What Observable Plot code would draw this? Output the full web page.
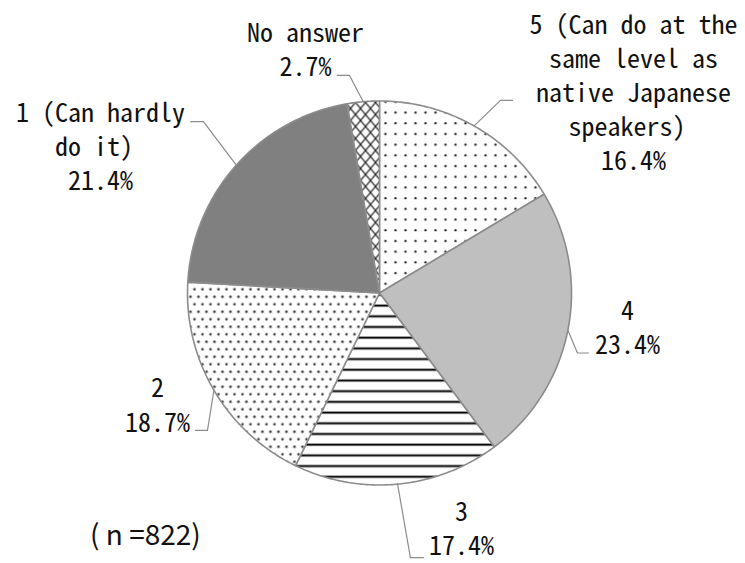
<!DOCTYPE html>
<html><head><meta charset="utf-8">
<script src="https://cdn.jsdelivr.net/npm/d3@7"></script>
<script src="https://cdn.jsdelivr.net/npm/@observablehq/plot@0.6"></script>
<style>body{margin:0;background:#fff}</style>
</head><body><div id="chart"></div>
<script>
// ---- data ----
const categories = ["5", "4", "3", "2", "1", "No answer"];
const names = [
  "5 (Can do at the\nsame level as\nnative Japanese\nspeakers)\u00a0",
  "4",
  "3",
  "2",
  "1 (Can hardly\ndo it)\u00a0",
  "No answer"
];
const shares = [16.4, 23.4, 17.4, 18.7, 21.4, 2.7];
const sampleNote = "( n =822)";

// ---- styles / layout (pie radius units, centre = 0,0) ----
const sliceFills = ["url(#p-dots-sparse)", "#bfbfbf", "url(#p-stripes)", "url(#p-dots-dense)", "#808080", "url(#p-cross)"];
const labelPos = [[1.323, 1.051], [1.292, -0.174], [0.427, -1.219], [-1.156, -0.576], [-1.453, 0.771], [-0.385, 1.274]];
const leaderElbow = [[0.630, 1.003], [1.031, -0.3125], [0.161, -1.378], [-0.896, -0.716], [-0.917, 0.893], [-0.156, 1.133]];
const leaderEnd = [[0.693, 1.003], [1.089, -0.3125], [0.229, -1.378], [-0.958, -0.716], [-0.984, 0.893], [-0.219, 1.133]];
const notePos = [-1.219, -1.268];

const W = 745, H = 563, R = 192, CX = 379, CY = 292.5;
const font = "'Noto Sans Mono CJK JP', 'DejaVu Sans Mono', monospace";

const arcs = d3.pie().sort(null).value(d => d)(shares);
const slices = arcs.map((a, i) => {
  const pts = [{x: 0, y: 0}];
  const n = Math.max(4, Math.ceil((a.endAngle - a.startAngle) / 0.01));
  for (let k = 0; k <= n; k++) {
    const t = a.startAngle + (a.endAngle - a.startAngle) * k / n;
    pts.push({x: Math.sin(t), y: Math.cos(t)});
  }
  pts.push({x: 0, y: 0});
  return pts;
});
const leaders = arcs.map((a, i) => {
  const m = (a.startAngle + a.endAngle) / 2;
  return [
    {x: Math.sin(m), y: Math.cos(m)},
    {x: leaderElbow[i][0], y: leaderElbow[i][1]},
    {x: leaderEnd[i][0], y: leaderEnd[i][1]}
  ];
});
const labels = shares.map((v, i) => ({
  x: labelPos[i][0], y: labelPos[i][1],
  text: names[i] + "\n" + v.toFixed(1) + "%"
}));

const svg = Plot.plot({
  width: W, height: H,
  marginTop: 0, marginRight: 0, marginBottom: 0, marginLeft: 0,
  x: {domain: [-CX / R, (W - CX) / R], axis: null},
  y: {domain: [(CY - H) / R, CY / R], axis: null},
  style: {background: "#fff", overflow: "visible"},
  marks: [
    ...slices.map((pts, i) => Plot.line(pts, {
      x: "x", y: "y", fill: sliceFills[i], stroke: "#8c8c8c", strokeWidth: 1.6,
      strokeLinejoin: "round"
    })),
    ...leaders.map(pts => Plot.line(pts, {x: "x", y: "y", stroke: "#8c8c8c", strokeWidth: 1.2})),
    Plot.text(labels, {
      x: "x", y: "y", text: "text", textAnchor: "middle", lineAnchor: "middle",
      lineHeight: 1.31, fontSize: 26, fontFamily: font, fill: "#111"
    }),
    Plot.text([sampleNote], {
      x: () => notePos[0], y: () => notePos[1], text: d => d, textAnchor: "middle",
      fontSize: 28, fontFamily: "'Noto Sans CJK JP', sans-serif", fill: "#111"
    })
  ]
});

const ns = "http://www.w3.org/2000/svg";
const defs = document.createElementNS(ns, "defs");
function el(tag, attrs, parent) {
  const e = document.createElementNS(ns, tag);
  for (const k in attrs) e.setAttribute(k, attrs[k]);
  parent.appendChild(e);
  return e;
}
function pattern(id, w, h) {
  const p = el("pattern", {id, width: w, height: h, patternUnits: "userSpaceOnUse"}, defs);
  el("rect", {width: w, height: h, fill: "#fff"}, p);
  return p;
}
let p = pattern("p-dots-sparse", 10, 10.7);
el("circle", {cx: 5, cy: 5, r: 1.15, fill: "#222"}, p);
p = pattern("p-dots-dense", 8, 15);
el("circle", {cx: 2, cy: 3.75, r: 1.3, fill: "#333"}, p);
el("circle", {cx: 6, cy: 11.25, r: 1.3, fill: "#333"}, p);
p = pattern("p-stripes", 10, 10.7);
el("rect", {x: 0, y: 4, width: 10, height: 3, fill: "#9a9a9a"}, p);
el("rect", {x: 0, y: 4.8, width: 10, height: 1.4, fill: "#000"}, p);
p = pattern("p-cross", 10, 12);
el("path", {d: "M0,0L10,12M10,0L0,12", stroke: "#222", "stroke-width": 1.2, fill: "none"}, p);
svg.insertBefore(defs, svg.firstChild);

document.getElementById("chart").appendChild(svg);
</script>
</body></html>
